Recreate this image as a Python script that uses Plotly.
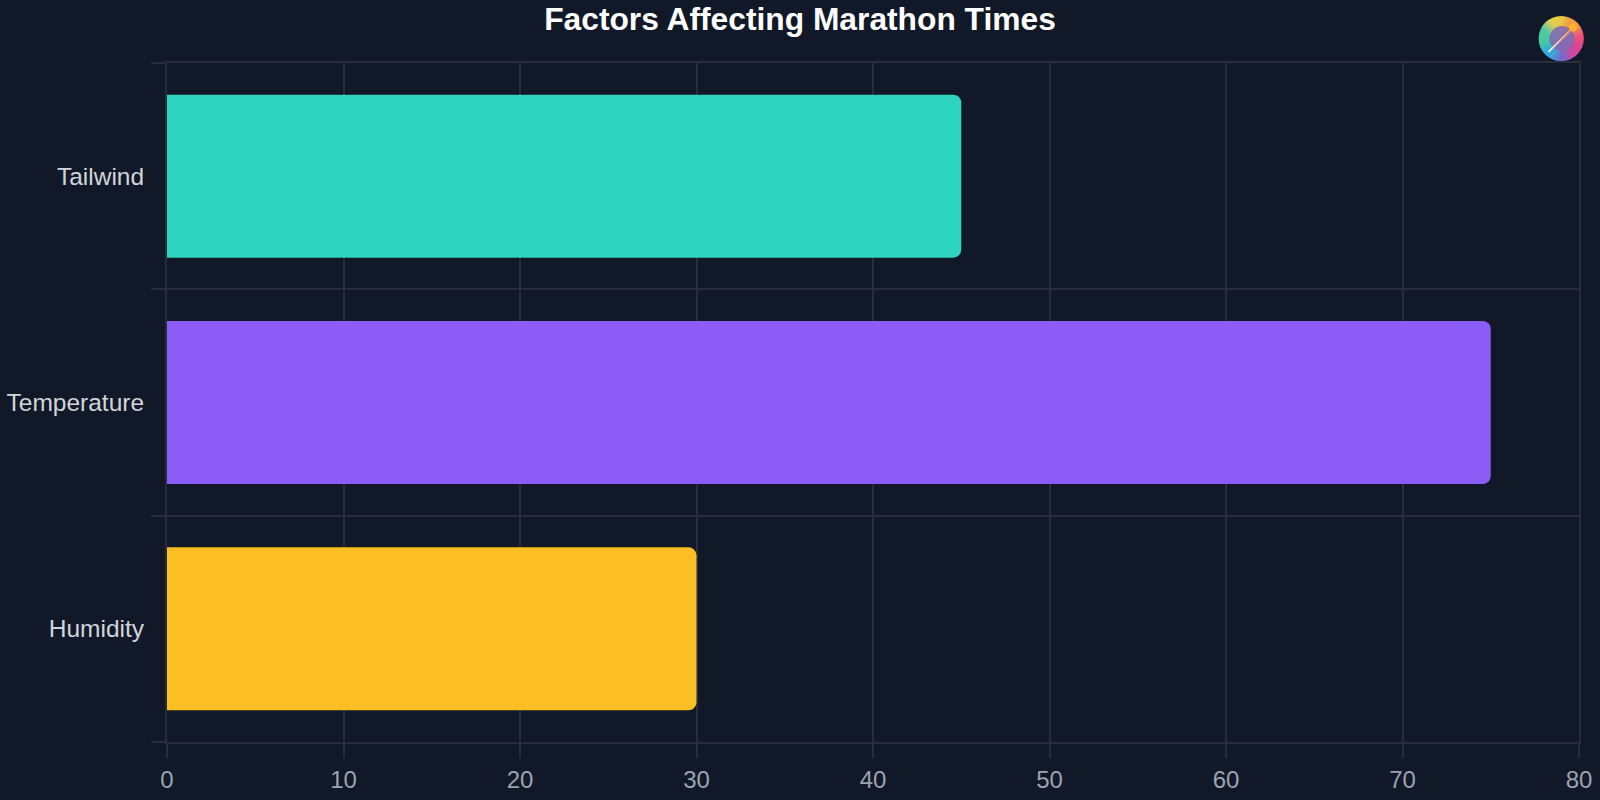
import base64
import plotly.graph_objects as go

categories = ["Humidity", "Temperature", "Tailwind"]
values = [30, 75, 45]
bar_colors = ["#fbbf24", "#8b5cf6", "#2dd4bf"]
x_ticks = [0, 10, 20, 30, 40, 50, 60, 70, 80]
title_text = "Factors Affecting Marathon Times"

BG = "#111827"
GRID = "#272d3b"

logo_svg = """<svg xmlns="http://www.w3.org/2000/svg" viewBox="-66 -66 132 132" width="132" height="132">
<defs>
<clipPath id="c"><circle cx="0" cy="0" r="65"/></clipPath>
<filter id="b" x="-30%" y="-30%" width="160%" height="160%"><feGaussianBlur stdDeviation="10"/></filter>
<linearGradient id="n" x1="0" y1="1" x2="1" y2="0"><stop offset="0" stop-color="#f2f7e8"/><stop offset="1" stop-color="#f9913f"/></linearGradient>
</defs>
<g clip-path="url(#c)"><g filter="url(#b)">
<path d="M0 0L-90 -90L20 -100Z" fill="#e6cf45"/>
<path d="M0 0L20 -100L100 -50Z" fill="#f59a45"/>
<path d="M0 0L100 -50L100 30Z" fill="#f0507a"/>
<path d="M0 0L100 30L40 100Z" fill="#d5459c"/>
<path d="M0 0L40 100L-30 100Z" fill="#7468d0"/>
<path d="M0 0L-30 100L-100 50Z" fill="#2eaee0"/>
<path d="M0 0L-100 50L-90 -90Z" fill="#48c9a0"/>
</g></g>
<circle cx="2" cy="0" r="36" fill="#7f6bb2" fill-opacity="0.9"/>
<line x1="-35" y1="37" x2="32" y2="-30" stroke="url(#n)" stroke-width="5" stroke-linecap="round"/>
<circle cx="34" cy="-32" r="12" fill="#fbb02c"/>
</svg>"""
logo_uri = "data:image/svg+xml;base64," + base64.b64encode(logo_svg.encode()).decode()

fig = go.Figure(
    go.Bar(
        x=values,
        y=categories,
        orientation="h",
        width=0.72,
        marker=dict(color=bar_colors, line_width=0, cornerradius=8),
        hoverinfo="x+y",
    )
)

axis_common = dict(
    showgrid=True,
    gridcolor=GRID,
    gridwidth=2,
    zeroline=False,
    showline=True,
    linecolor=GRID,
    linewidth=2,
    mirror=True,
    ticks="outside",
    ticklen=14,
    tickwidth=2,
    tickcolor=GRID,
    automargin=False,
)

fig.update_layout(
    width=1600,
    height=800,
    autosize=False,
    margin=dict(l=166.5, r=20.7, t=62.5, b=57.5, pad=0),
    paper_bgcolor=BG,
    plot_bgcolor=BG,
    showlegend=False,
    title=dict(
        text=title_text,
        x=0.5,
        xref="container",
        xanchor="center",
        y=1 - 19 / 800,
        yref="container",
        yanchor="middle",
        font=dict(family="Liberation Sans", size=31.75, color="#ffffff", weight="bold"),
    ),
    font=dict(family="Liberation Sans"),
    xaxis=dict(
        range=[0, 80],
        tickvals=x_ticks,
        ticktext=[str(v) for v in x_ticks],
        tickfont=dict(size=24, color="#9ca3af"),
        ticklabelstandoff=1,
        **axis_common,
    ),
    yaxis=dict(
        type="category",
        categoryorder="array",
        categoryarray=categories,
        range=[-0.5, 2.5],
        tickson="boundaries",
        tickfont=dict(size=24.5, color="#d1d5db"),
        ticklabelstandoff=16,
        **axis_common,
    ),
    images=[
        dict(
            source=logo_uri,
            xref="paper",
            yref="paper",
            x=(1538.5 - 166.5) / 1412.8,
            y=1 + (62.5 - 15) / 680,
            sizex=46 / 1412.8,
            sizey=46 / 680,
            xanchor="left",
            yanchor="top",
            sizing="stretch",
            layer="above",
        )
    ],
)

fig.write_html(
    "out.html",
    config=dict(displayModeBar=False),
    post_script="document.body.style.margin='0';document.body.style.overflow='hidden';",
)
